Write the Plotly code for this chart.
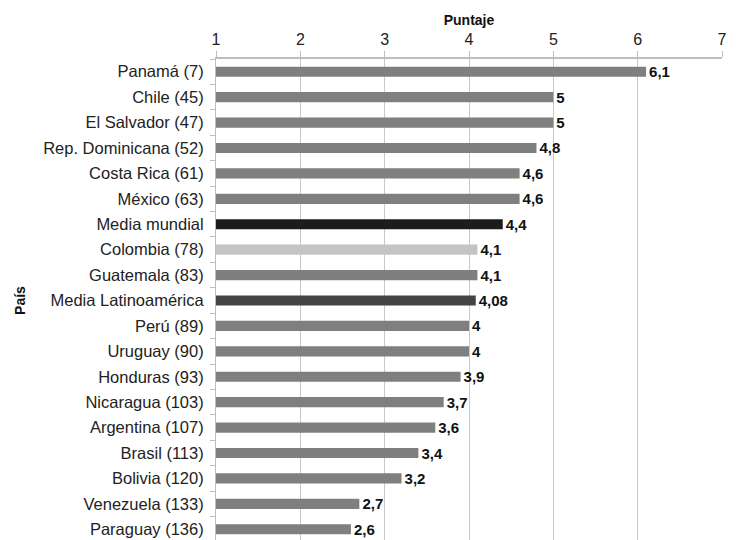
import plotly.graph_objects as go

paises = ["Panamá (7)", "Chile (45)", "El Salvador (47)", "Rep. Dominicana (52)",
          "Costa Rica (61)", "México (63)", "Media mundial", "Colombia (78)",
          "Guatemala (83)", "Media Latinoamérica", "Perú (89)", "Uruguay (90)",
          "Honduras (93)", "Nicaragua (103)", "Argentina (107)", "Brasil (113)",
          "Bolivia (120)", "Venezuela (133)", "Paraguay (136)"]
puntaje = [6.1, 5, 5, 4.8, 4.6, 4.6, 4.4, 4.1, 4.1, 4.08, 4, 4, 3.9, 3.7, 3.6, 3.4, 3.2, 2.7, 2.6]
etiquetas = ["6,1", "5", "5", "4,8", "4,6", "4,6", "4,4", "4,1", "4,1", "4,08", "4", "4",
             "3,9", "3,7", "3,6", "3,4", "3,2", "2,7", "2,6"]
ticks_x = [1, 2, 3, 4, 5, 6, 7]

colores = []
for p in paises:
    if p == "Media mundial":
        colores.append("#1c1c1c")
    elif p == "Colombia (78)":
        colores.append("#c4c4c4")
    elif p == "Media Latinoamérica":
        colores.append("#444444")
    else:
        colores.append("#7f7f7f")

fig = go.Figure(go.Bar(
    x=puntaje, y=paises, orientation="h",
    marker=dict(color=colores, line=dict(width=0)),
    text=etiquetas, textposition="outside", constraintext="none",
    textfont=dict(family="Liberation Sans", size=15, color="#111111", weight="bold"),
    cliponaxis=False,
))

fig.update_layout(
    width=728, height=534,
    margin=dict(l=208, r=14, t=51, b=0, autoexpand=False),
    paper_bgcolor="white", plot_bgcolor="white",
    bargap=0.6,
    showlegend=False,
    uniformtext=dict(minsize=15, mode="show"),
    font=dict(family="Liberation Sans", size=16, color="#222222"),
    xaxis=dict(
        side="top", range=[1, 7], tickvals=ticks_x, automargin=False,
        showgrid=True, gridcolor="#c8c8c8", gridwidth=1,
        showline=True, linecolor="#bdbdbd", linewidth=2,
        ticks="outside", tickcolor="#bdbdbd", ticklen=6,
        tickfont=dict(size=16, color="#222222"),
        title=dict(text="<b>Puntaje</b>", font=dict(size=14, color="#111111"), standoff=2),
        zeroline=False,
    ),
    yaxis=dict(
        categoryorder="array", categoryarray=paises[::-1], automargin=False,
        showline=True, linecolor="#bdbdbd", linewidth=1,
        ticks="outside", tickcolor="#bdbdbd", ticklen=5, tickson="boundaries",
        ticklabelstandoff=8,
        tickfont=dict(size=16.5, color="#222222"),
        title=dict(text="<b>País</b>", font=dict(size=14, color="#111111"), standoff=14),
    ),
)

fig.write_html("out.html")
